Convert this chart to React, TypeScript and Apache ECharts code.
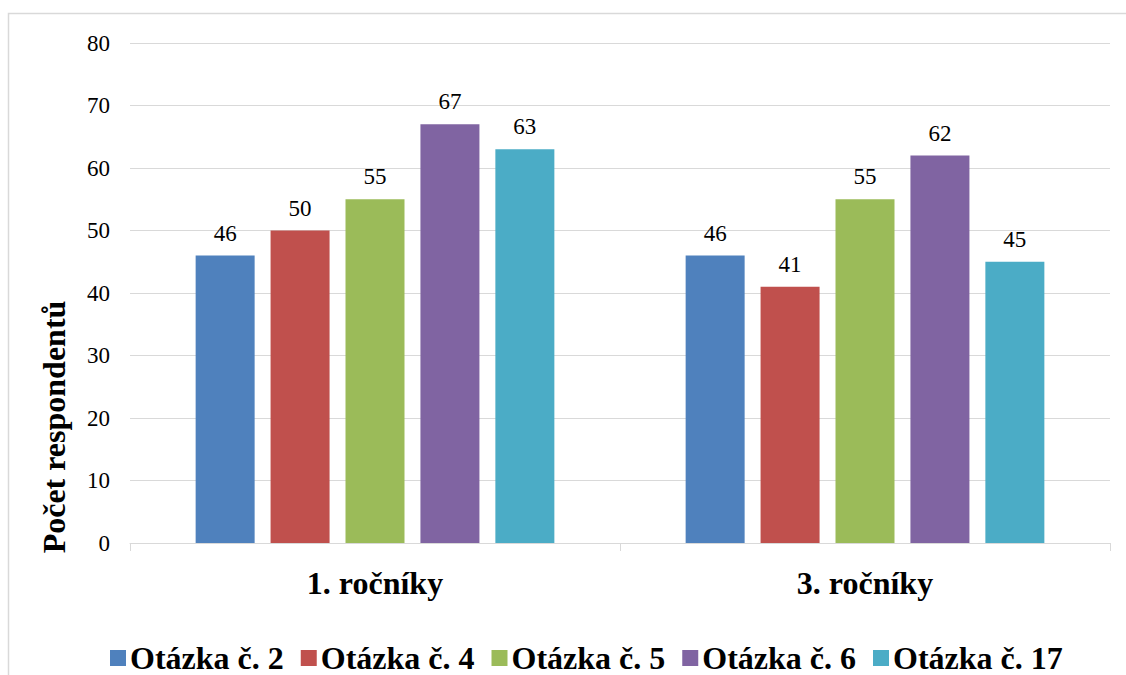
import React, { useEffect, useRef } from "react";
import * as echarts from "echarts";

const categories = ["1. ročníky", "3. ročníky"];
const seriesNames = ["Otázka č. 2", "Otázka č. 4", "Otázka č. 5", "Otázka č. 6", "Otázka č. 17"];
const q2 = [46, 46];
const q4 = [50, 41];
const q5 = [55, 55];
const q6 = [67, 62];
const q17 = [63, 45];
const colors = ["#4F81BD", "#C0504D", "#9BBB59", "#8064A2", "#4BACC6"];
const yTitle = "Počet respondentů";

const FONT = "Liberation Serif, Times New Roman, serif";

export default function App() {
  const ref = useRef<HTMLDivElement>(null);
  useEffect(() => {
    if (!ref.current) return;
    const chart = echarts.init(ref.current, null, { renderer: "svg" });
    const values = [q2, q4, q5, q6, q17];
    const txt = (size: number, bold: boolean) => ({
      fontFamily: FONT,
      fontSize: size,
      fontWeight: bold ? "bold" : "normal",
      color: "#000",
    });
    chart.setOption({
      animation: false,
      backgroundColor: "#ffffff",
      textStyle: { fontFamily: FONT, fontSize: 23 },
      grid: { left: 130, right: 16, top: 43, bottom: 132 },
      legend: {
        left: 105,
        top: 637,
        itemWidth: 16,
        itemHeight: 16,
        itemGap: 17,
        icon: "rect",
        textStyle: { ...txt(32, true), lineHeight: 32, padding: [0, 0, 0, -1] },
        data: seriesNames,
      },
      xAxis: {
        type: "category",
        data: categories,
        axisLine: { lineStyle: { color: "#d9d9d9", width: 1 } },
        axisTick: { show: true, length: 8, lineStyle: { color: "#d9d9d9" } },
        axisLabel: { ...txt(32, true), margin: 24 },
      },
      yAxis: {
        type: "value",
        min: 0,
        max: 80,
        interval: 10,
        axisLine: { show: false },
        axisTick: { show: false },
        splitLine: { lineStyle: { color: "#d9d9d9", width: 1 } },
        axisLabel: { ...txt(23, false), margin: 20 },
      },
      graphic: [
        {
          type: "rect",
          silent: true,
          shape: { x: 8.5, y: 13.5, width: 1140, height: 700 },
          style: { fill: "none", stroke: "#d9d9d9", lineWidth: 1.5 },
        },
        {
          type: "text",
          x: 54,
          y: 427,
          rotation: Math.PI / 2,
          style: {
            text: yTitle,
            fontFamily: FONT,
            fontSize: 32,
            fontWeight: "bold",
            fill: "#000",
            align: "center",
            verticalAlign: "middle",
          },
        },
      ],
      series: seriesNames.map((name, i) => ({
        name,
        type: "bar",
        data: values[i],
        barWidth: 59,
        barGap: "27%",
        itemStyle: { color: colors[i] },
        label: {
          show: true,
          position: "top",
          distance: 11,
          ...txt(23, false),
        },
      })),
    });
    return () => chart.dispose();
  }, []);
  return (
    <div
      ref={ref}
      style={{ position: "fixed", left: 0, top: 0, width: 1126, height: 675 }}
    />
  );
}
